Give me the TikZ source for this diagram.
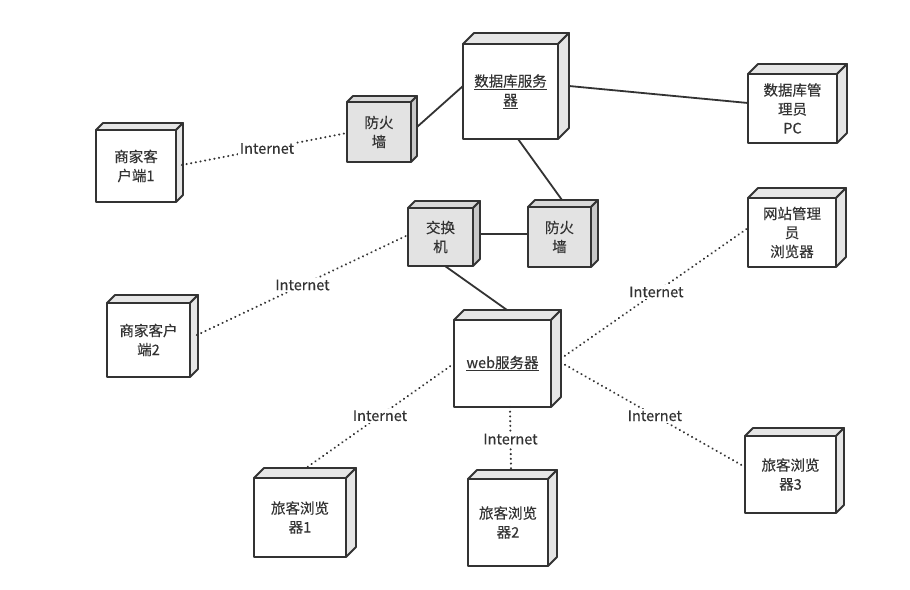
\documentclass[tikz,border=0pt]{standalone}
\usepackage{fontspec}
\setmainfont{Noto Sans CJK SC}[FakeBold=0.3]
\definecolor{linec}{HTML}{333333}
\definecolor{textc}{HTML}{333333}
\definecolor{wside}{HTML}{E6E6E6}
\definecolor{gfront}{HTML}{E3E3E3}
\definecolor{gtop}{HTML}{D8D8D8}
\definecolor{gside}{HTML}{C8C8C8}
\tikzset{
  base/.style={draw=linec, line width=1.8pt, line join=round},
  whitebox/.style={base, fill=white, outer sep=0pt, inner sep=2pt, align=center,
    text=textc, font=\fontsize{14.5}{19}\selectfont},
  graybox/.style={whitebox, fill=gfront},
  whitetop/.style={base, fill=wside},
  whiteside/.style={base, fill=wside},
  graytop/.style={base, fill=gtop},
  grayside/.style={base, fill=gside},
  solidlink/.style={draw=linec, line width=1.8pt},
  dotlink/.style={draw=linec, line width=2.3pt, line cap=round, dash pattern=on 0.01pt off 4.7pt},
  lbl/.style={fill=white, inner sep=1.5pt, text=textc, font=\fontsize{14.5}{16}\selectfont},
}
\newcommand\dnode[8]{%
  \node[#7box, minimum width=#4pt, minimum height=#5pt, anchor=north west] (#1) at (#2,#3) {#8};
  \filldraw[#7top] (#1.north west) -- ++(#6,-#6) -- ++(#4,0) -- (#1.north east) -- cycle;
  \filldraw[#7side] (#1.north east) -- ++(#6,-#6) -- ++(0,#5) -- (#1.south east) -- cycle;
}
\begin{document}
\begin{tikzpicture}[x=1pt,y=-1pt]
\useasboundingbox[fill=white] (0,0) rectangle (910,589);
\dnode{db}{463}{44}{95}{95}{11}{white}{\underline{数据库服务}\\\underline{器}}
\dnode{fwa}{347}{102}{64}{60}{6}{gray}{防火\\墙}
\dnode{pc}{748}{74}{89}{69}{10}{white}{数据库管\\理员\\PC}
\dnode{shopa}{96}{130}{80}{72}{7}{white}{商家客\\户端1}
\dnode{sw}{408}{208}{65}{58}{7}{gray}{交换\\机}
\dnode{fwb}{528}{207}{63}{60}{7}{gray}{防火\\墙}
\dnode{web}{454}{320}{97}{87}{10}{white}{\underline{web服务器}}
\dnode{shopb}{107}{303}{83}{74}{8}{white}{商家客户\\端2}
\dnode{wadmin}{748}{198}{88}{69}{10}{white}{网站管理\\员\\浏览器}
\dnode{ta}{254}{478}{92}{79}{10}{white}{旅客浏览\\器1}
\dnode{tb}{468}{479}{80}{87}{9}{white}{旅客浏览\\器2}
\dnode{tc}{745}{436}{91}{77}{8}{white}{旅客浏览\\器3}

% solid links
\draw[solidlink] ([xshift=6pt,yshift=5pt]fwa.east) -- ([yshift=5.5pt]db.west);
\draw[solidlink] ([xshift=11pt,yshift=5.5pt]db.east) -- ([yshift=5.5pt]pc.west);
\draw[solidlink] ([xshift=7.5pt]db.south) -- ([xshift=2.5pt,yshift=7pt]fwb.north);
\draw[solidlink] ([xshift=7pt,yshift=3pt]sw.east) -- ([yshift=3pt]fwb.west);
\draw[solidlink] ([xshift=4.5pt]sw.south) -- ([xshift=4.5pt,yshift=10pt]web.north);

% dotted links
\draw[dotlink] ([xshift=6pt,yshift=1pt]shopa.east) -- ([yshift=-1pt]fwa.west)
  node[lbl, pos=0.515] {Internet};
\draw[dotlink] ([xshift=7pt,yshift=5pt]shopb.east) -- ([yshift=2pt]sw.west)
  node[lbl, pos=0.5] {Internet};
\draw[dotlink] ([xshift=10pt,yshift=5pt]web.east) -- ([yshift=4.5pt]wadmin.west)
  node[lbl, pos=0.51] {Internet};
\draw[dotlink] ([xshift=10pt,yshift=1pt]web.east) -- ([yshift=7.5pt]tc.west)
  node[lbl, pos=0.51] {Internet};
\draw[dotlink] (web.west) -- ([xshift=6pt,yshift=10pt]ta.north)
  node[lbl, pos=0.5] {Internet};
\draw[dotlink] ([xshift=7.5pt]web.south) -- ([xshift=3pt,yshift=9pt]tb.north)
  node[lbl, pos=0.51] {Internet};
\end{tikzpicture}
\end{document}
